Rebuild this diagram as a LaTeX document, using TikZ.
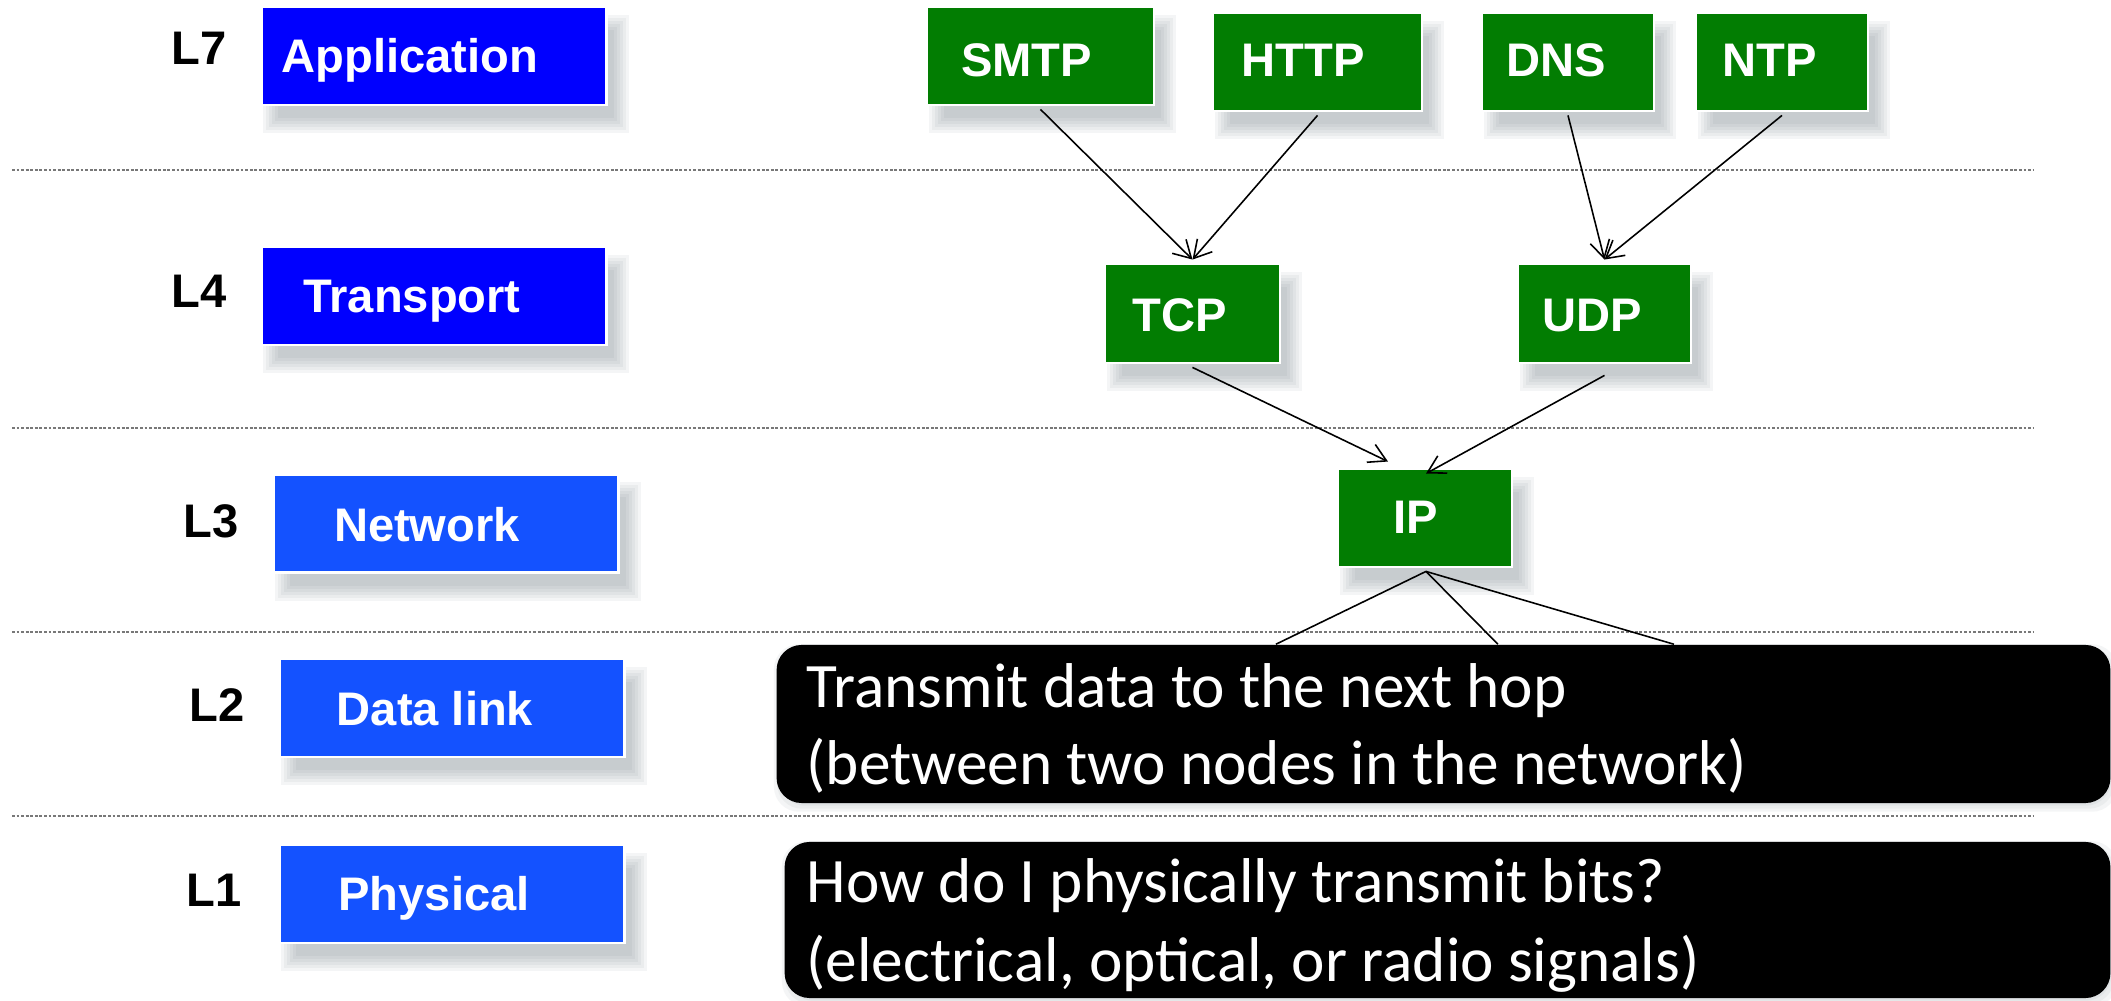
\documentclass[tikz,border=0pt]{standalone}
\usepackage{fontspec}
\setmainfont{Liberation Sans}
\newfontfamily\calib{Carlito}
\usetikzlibrary{arrows.meta,calc,backgrounds}
\definecolor{appblue}{RGB}{0,0,255}
\definecolor{lowblue}{RGB}{20,82,255}
\definecolor{protogreen}{RGB}{2,125,2}
\definecolor{shadowcol}{RGB}{70,90,100}
\definecolor{dotgray}{RGB}{120,120,120}
% soft shadow: node, dx, dy, list of spreads, extra style
\newcommand\softshadow[5]{%
  \begin{pgfonlayer}{background}
  \foreach \r in {#4}{%
    \fill[shadowcol,opacity=0.055,#5] ($(#1.north west)+({#2-(\r)},{#3-(\r)})$) rectangle ($(#1.south east)+({#2+(\r)},{#3+(\r)})$);
  }
  \end{pgfonlayer}}
\begin{document}
\begin{tikzpicture}[x=0.01cm,y=-0.01cm,
  lay/.style={font=\fontsize{13.4pt}{16pt}\selectfont\bfseries, text height=9.6pt, text depth=0pt, inner sep=0pt},
  layerbox/.style={draw=white, line width=0.8pt, minimum width=3.44cm, minimum height=0.98cm, inner sep=0pt},
  protobox/.style={fill=protogreen, draw=white, line width=0.8pt, minimum height=0.98cm, inner sep=0pt},
  boxtxt/.style={lay, text=white},
  conn/.style={line width=0.45pt, -{Straight Barb[length=4.9pt,width=5.6pt]}},
  plainconn/.style={line width=0.45pt},
  dotline/.style={dotgray, line width=0.5pt, dash pattern=on 0.8pt off 0.5pt},
  note/.style={fill=black, rounded corners=0.25cm, inner sep=0pt},
  notetxt/.style={font=\calib\fontsize{18pt}{22pt}\selectfont, text=white, inner sep=0pt, anchor=base west}]
\useasboundingbox (0,0) rectangle (2111,1001);
\begin{pgfonlayer}{background}
\fill[white] (0,0) rectangle (2111,1001);
\end{pgfonlayer}

% layer separators
\draw[dotline] (12,170) -- (2033,170);
\draw[dotline] (12,428) -- (2033,428);
\draw[dotline] (12,632) -- (2033,632);
\draw[dotline] (12,816) -- (2033,816);

% layer labels
\node[lay] (l7) at (199,47.5) {L7};
\node[lay] (l4) at (199,290.5) {L4};
\node[lay] (l3) at (211,521) {L3};
\node[lay] (l2) at (217,705) {L2};
\node[lay] (l1) at (214,890) {L1};

% layer boxes
\node[layerbox, fill=appblue] (app) at (434,56) {};
\node[boxtxt] (app-t) at ($(app)+(-24,0)$) {Application};
\node[layerbox, fill=appblue] (trn) at (434,296) {};
\node[boxtxt] (trn-t) at ($(trn)+(-22,0)$) {Transport};
\node[layerbox, fill=lowblue] (net) at (446,523.5) {};
\node[boxtxt] (net-t) at ($(net)+(-19,1)$) {Network};
\node[layerbox, fill=lowblue] (dlk) at (452,708) {};
\node[boxtxt] (dlk-t) at ($(dlk)+(-17,1)$) {Data link};
\node[layerbox, fill=lowblue] (phy) at (452,894) {};
\node[boxtxt] (phy-t) at ($(phy)+(-18,0)$) {Physical};

% protocol boxes
\node[protobox, minimum width=2.27cm] (smtp) at (1040.5,56) {};
\node[boxtxt] (smtp-t) at ($(smtp)+(-14,3.5)$) {SMTP};
\node[protobox, minimum width=2.09cm] (http) at (1317.5,62) {};
\node[boxtxt] (http-t) at ($(http)+(-14.5,-2.5)$) {HTTP};
\node[protobox, minimum width=1.72cm] (dns) at (1568,62) {};
\node[boxtxt] (dns-t) at ($(dns)+(-12,-2.5)$) {DNS};
\node[protobox, minimum width=1.72cm] (ntp) at (1782,62) {};
\node[boxtxt] (ntp-t) at ($(ntp)+(-12,-2.5)$) {NTP};
\node[protobox, minimum width=1.75cm, minimum height=0.99cm] (tcp) at (1192.5,313.5) {};
\node[boxtxt] (tcp-t) at ($(tcp)+(-12.5,1)$) {TCP};
\node[protobox, minimum width=1.73cm, minimum height=0.99cm] (udp) at (1604.5,313.5) {};
\node[boxtxt] (udp-t) at ($(udp)+(-12.5,1)$) {UDP};
\node[protobox, minimum width=1.74cm] (ip) at (1425,518) {};
\node[boxtxt] (ip-t) at ($(ip)+(-9,-1)$) {IP};

% shadows
\foreach \n in {app,trn,net,dlk,phy,smtp,http,dns,ntp,tcp,udp,ip}{
  \softshadow{\n}{12}{18}{-6,-3,0,3,6,9}{}
}

% connectors
\draw[conn] ($(smtp.south)+(0,3)$) -- ($(tcp.north)+(0,-3)$);
\draw[conn] ($(http.south)+(0,3)$) -- ($(tcp.north)+(0,-3)$);
\draw[conn] ($(dns.south)+(0,3)$) -- ($(udp.north)+(0,-3)$);
\draw[conn] ($(ntp.south)+(0,3)$) -- ($(udp.north)+(0,-3)$);
\draw[conn] ($(tcp.south)+(0,3)$) -- ($(ip.north)+(-37,-6)$);
\draw[conn] ($(udp.south)+(0,11)$) -- ($(ip.north)+(1,6)$);

% notes
\node[note, minimum width=13.33cm, minimum height=1.58cm] (dl) at (1443.5,724) {};
\node[notetxt] (dl-a) at (806,708) {Transmit data to the next hop};
\node[notetxt] (dl-b) at (806,785) {(between two nodes in the network)};
\node[note, minimum width=13.25cm, minimum height=1.56cm] (ph) at (1447.5,920) {};
\node[notetxt] (ph-a) at (806,903) {How do I physically transmit bits?};
\node[notetxt] (ph-b) at (806,982) {(electrical, optical, or radio signals)};
\softshadow{dl}{2}{4}{-2,1,4}{rounded corners=0.25cm}
\softshadow{ph}{2}{4}{-2,1,4}{rounded corners=0.25cm}

% IP fan-out into the data link note
\coordinate (ipl) at ($(dl.north west)+(500,0)$);
\coordinate (ipm) at ($(dl.north west)+(722,0)$);
\coordinate (ipr) at ($(dl.north west)+(898,0)$);
\draw[plainconn] ($(ip.south)+(1,3)$) -- (ipl);
\draw[plainconn] ($(ip.south)+(1,3)$) -- (ipm);
\draw[plainconn] ($(ip.south)+(1,3)$) -- (ipr);
\end{tikzpicture}
\end{document}
